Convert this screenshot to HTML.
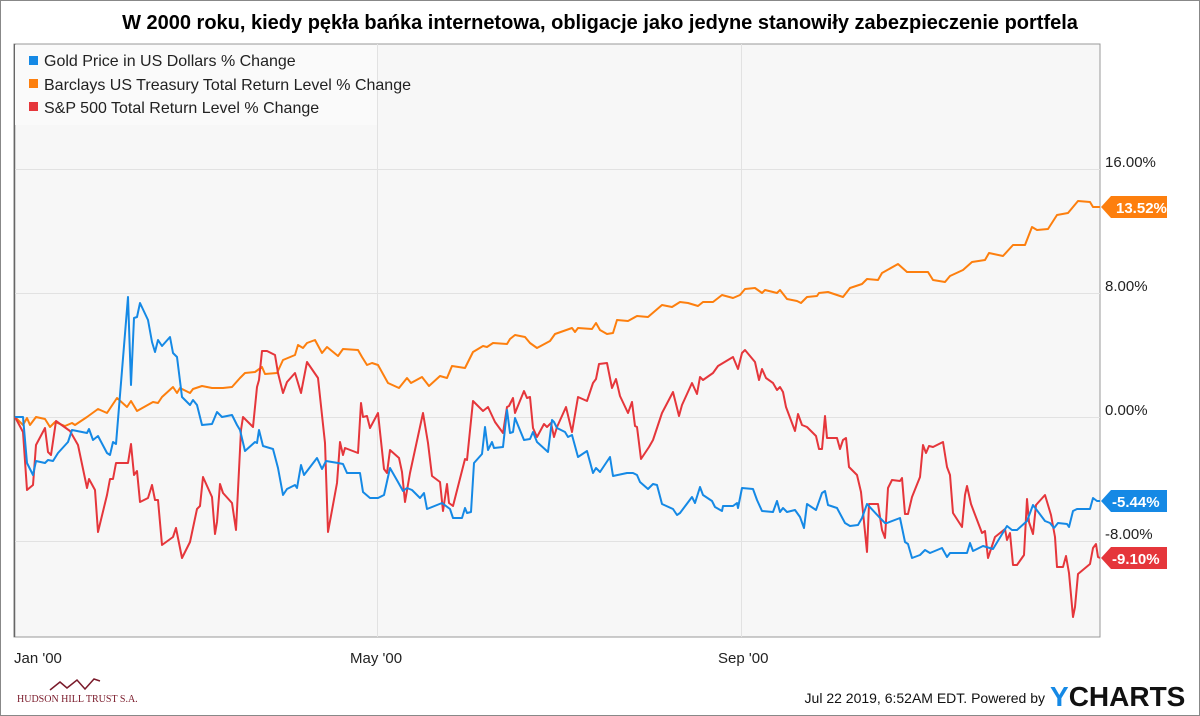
<!DOCTYPE html>
<html><head><meta charset="utf-8"><style>
html,body{margin:0;padding:0;background:#fff;}
svg{display:block;font-family:"Liberation Sans","DejaVu Sans",sans-serif;}
</style></head><body>
<svg width="1200" height="716" viewBox="0 0 1200 716" xmlns="http://www.w3.org/2000/svg">
<rect x="0.5" y="0.5" width="1199" height="715" fill="#fff" stroke="#888"/>
<text x="600" y="29" text-anchor="middle" font-size="20" font-weight="bold" fill="#000">W 2000 roku, kiedy pękła bańka internetowa, obligacje jako jedyne stanowiły zabezpieczenie portfela</text>
<rect x="14" y="44" width="1086" height="593" fill="#f7f7f7" stroke="#999"/>
<line x1="14.5" y1="44" x2="14.5" y2="637" stroke="#666" stroke-width="1.5"/>
<g stroke="#e2e2e2" stroke-width="1">
<line x1="15" y1="169.5" x2="1100" y2="169.5"/><line x1="15" y1="293.5" x2="1100" y2="293.5"/>
<line x1="15" y1="417.5" x2="1100" y2="417.5"/><line x1="15" y1="541.5" x2="1100" y2="541.5"/>
<line x1="377.5" y1="44" x2="377.5" y2="637"/><line x1="741.5" y1="44" x2="741.5" y2="637"/>
</g>
<rect x="15" y="45" width="362" height="80" fill="#fafafa"/>
<rect x="29" y="56" width="9" height="9" fill="#1589e5"/>
<text x="44" y="66" font-size="16" fill="#222">Gold Price in US Dollars % Change</text>
<rect x="29" y="79" width="9" height="9" fill="#fd7f0e"/>
<text x="44" y="90" font-size="16" fill="#222">Barclays US Treasury Total Return Level % Change</text>
<rect x="29" y="102" width="9" height="9" fill="#e5363b"/>
<text x="44" y="113" font-size="16" fill="#222">S&amp;P 500 Total Return Level % Change</text>
<g fill="none" stroke-width="2" stroke-linejoin="round">
<polyline stroke="#fd7f0e" points="15,417 23,425 27,418 30,425 36,417 45,419 50,427 55,422 65,426 72,423 75,425 87,417 98,409 107,413 117,398 127,407 131,401 137,411 153,402 158,403 162,397 173,387 177,393 180,388 190,393 193,389 202,386 212,388 223,388 232,387 240,378 245,373 255,372 262,367 265,374 277,373 283,360 295,355 298,345 303,348 307,343 315,340 322,353 327,347 338,356 343,349 358,350 362,357 367,365 372,363 378,365 388,383 399,388 407,378 411,383 422,377 429,386 440,376 447,378 452,366 465,368 473,352 483,346 487,347 493,343 507,344 510,339 515,335 525,337 530,343 537,348 550,341 555,334 572,328 575,332 578,328 592,329 596,323 600,330 607,334 613,333 617,320 628,321 637,316 648,317 662,305 672,307 680,302 688,303 698,306 703,302 713,302 722,295 733,298 740,295 745,289 755,288 762,293 765,290 777,293 780,290 787,299 797,301 801,303 807,297 817,296 819,293 828,292 843,297 850,288 862,284 867,279 878,280 882,273 898,264 907,272 920,272 928,272 933,280 945,282 950,276 963,270 972,262 985,260 989,253 1003,256 1013,245 1025,245 1032,227 1037,230 1048,229 1057,215 1068,213 1078,201 1090,202 1093,207 1100,207"/>
<polyline stroke="#e5363b" points="15,417 23,432 27,490 33,485 36,445 45,428 48,452 51,455 56,421 70,431 78,445 87,488 89,479 95,490 98,532 107,495 110,479 113,479 116,463 128,463 131,444 134,475 137,471 140,502 148,498 152,485 155,500 158,500 162,545 173,537 176,528 182,558 190,542 197,509 200,506 203,477 212,497 215,534 217,522 220,484 223,493 232,503 236,530 241,430 243,417 253,427 257,387 259,380 262,351 267,351 275,355 278,373 283,393 287,382 295,373 301,393 307,362 318,378 325,443 328,532 337,483 340,442 343,455 345,448 358,453 361,403 363,417 367,416 370,428 378,413 384,469 387,473 390,450 399,458 402,472 405,502 410,473 423,413 428,443 432,476 440,482 443,511 447,484 449,503 453,506 465,459 467,460 473,401 483,411 488,407 495,422 503,433 507,407 509,406 513,398 515,413 524,391 527,398 530,397 533,428 537,437 544,424 547,427 551,423 554,437 557,427 566,407 572,432 578,397 587,401 593,383 596,379 599,364 607,363 612,388 616,379 620,396 628,413 632,402 635,426 637,427 641,459 649,447 653,440 662,413 673,392 679,416 682,405 692,383 697,394 700,377 703,380 713,373 718,366 723,363 733,357 738,369 742,353 745,350 755,362 759,380 762,369 766,378 773,383 777,390 780,387 783,392 786,407 795,431 798,414 802,425 807,427 816,436 819,449 822,449 825,416 827,438 837,438 840,449 843,440 846,438 849,467 857,475 861,492 867,552 869,504 878,504 882,530 885,538 888,488 892,480 900,481 902,478 905,514 908,514 912,497 920,477 923,445 926,453 929,446 933,447 943,442 947,467 950,475 953,513 962,527 965,495 967,486 971,504 974,512 982,533 985,531 988,558 995,537 1000,533 1005,529 1007,540 1010,533 1013,565 1017,565 1024,555 1027,499 1029,522 1033,534 1036,505 1045,495 1051,515 1055,537 1057,567 1063,567 1066,556 1069,573 1073,617 1075,607 1078,574 1090,564 1093,548 1096,544 1098,557 1100,558"/>
<polyline stroke="#1589e5" points="15,417 23,417 27,463 33,475 36,461 45,463 48,460 53,461 58,453 68,442 72,430 87,433 89,429 93,440 98,436 107,453 110,455 113,442 116,444 128,297 131,385 134,318 137,317 140,303 148,320 152,342 155,352 158,340 162,346 170,337 173,353 177,357 182,397 190,405 193,400 197,405 202,425 212,424 217,412 222,417 232,415 237,425 240,430 245,451 255,442 257,443 259,430 263,446 273,449 278,468 283,495 287,489 295,485 297,488 301,465 304,475 317,458 322,469 326,461 338,463 343,464 347,473 360,473 363,492 370,498 378,498 384,495 390,468 398,482 403,491 407,488 412,490 420,498 424,493 427,509 442,503 450,509 453,518 462,518 465,508 467,513 471,512 474,463 482,454 485,427 488,450 492,442 494,448 503,447 507,410 510,433 513,432 515,418 524,440 530,439 533,432 537,442 548,452 552,420 554,422 557,428 565,432 568,437 572,435 578,457 587,451 593,473 596,468 600,472 610,457 613,476 627,473 633,473 637,475 640,482 648,489 653,484 657,485 662,504 673,509 677,515 680,513 692,497 695,503 700,487 703,495 712,501 715,507 722,511 723,506 733,506 737,503 738,508 742,488 753,489 757,500 762,511 773,512 777,501 780,512 783,508 787,512 795,510 800,517 804,528 807,504 816,510 822,493 825,491 828,505 837,508 845,523 850,526 858,525 862,518 867,504 880,518 885,523 887,523 900,518 905,542 908,544 912,558 920,555 922,553 925,550 930,553 942,548 947,557 950,553 967,553 970,543 973,551 983,546 993,549 1007,526 1012,530 1017,530 1027,521 1033,505 1045,521 1050,523 1054,528 1058,523 1067,524 1069,527 1073,511 1077,509 1090,509 1093,498 1097,501 1100,501"/>
</g>
<g font-size="15" fill="#222">
<text x="1105" y="167">16.00%</text>
<text x="1105" y="291">8.00%</text>
<text x="1105" y="415">0.00%</text>
<text x="1105" y="539">-8.00%</text>
<text x="14" y="663">Jan '00</text>
<text x="350" y="663">May '00</text>
<text x="718" y="663">Sep '00</text>
</g>
<polygon points="1101,207 1111,196 1167,196 1167,218 1111,218" fill="#fd7f0e"/>
<text x="1116" y="213" font-size="15" font-weight="bold" fill="#fff">13.52%</text>
<polygon points="1101,501 1111,490 1167,490 1167,512 1111,512" fill="#1589e5"/>
<text x="1112" y="507" font-size="15" font-weight="bold" fill="#fff">-5.44%</text>
<polygon points="1101,558 1111,547 1167,547 1167,569 1111,569" fill="#e5363b"/>
<text x="1112" y="564" font-size="15" font-weight="bold" fill="#fff">-9.10%</text>
<polyline points="50,690 60,682 67,688 77,680 85,689 94,679 100,681" fill="none" stroke="#7a1a2a" stroke-width="1.5"/>
<text x="17" y="702" font-size="10" fill="#7a1a2a" font-family="Liberation Serif, serif">HUDSON HILL TRUST S.A.</text>
<text x="1045" y="703" font-size="14" text-anchor="end" fill="#111">Jul 22 2019, 6:52AM EDT. Powered by</text>
<text x="1050" y="706" font-size="28" font-weight="bold" fill="#111"><tspan fill="#1589e5">Y</tspan>CHARTS</text>
</svg>
</body></html>
